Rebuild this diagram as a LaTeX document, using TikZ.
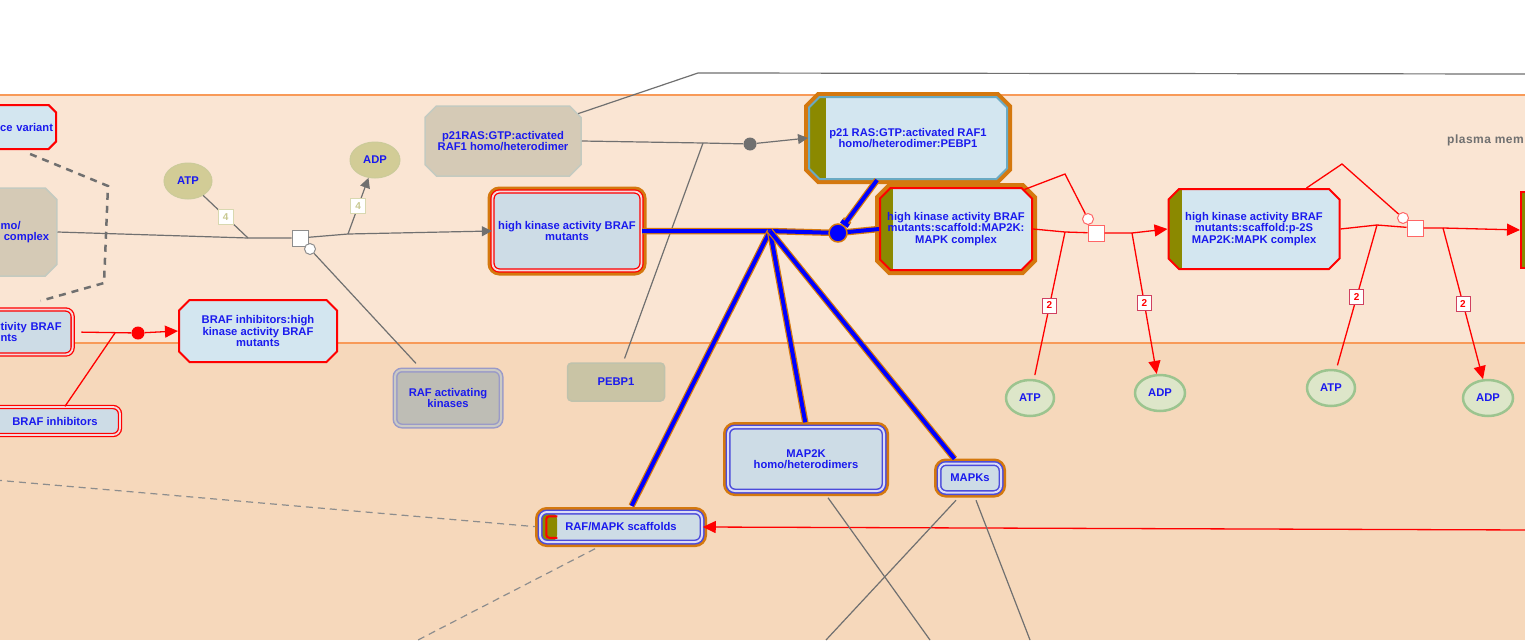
\documentclass[tikz,border=0pt]{standalone}
\usepackage{fontspec}
\setmainfont{Liberation Sans}
\usepackage{xcolor}
\usetikzlibrary{shapes.misc,shapes.geometric,arrows.meta,calc}

\definecolor{memfill}{HTML}{FAE5D3}
\definecolor{cytfill}{HTML}{F6D8BB}
\definecolor{memline}{HTML}{F89A58}
\definecolor{txtblue}{HTML}{1A1AEE}
\definecolor{labgray}{HTML}{707070}
\definecolor{pebox}{HTML}{D3E6F0}
\definecolor{setbox}{HTML}{CDDCE6}
\definecolor{setgap}{HTML}{F4D8DC}
\definecolor{bluegap}{HTML}{DCDCF6}
\definecolor{setblue}{HTML}{4B4BDB}
\definecolor{tanbox}{HTML}{D5CAB6}
\definecolor{tanedge}{HTML}{C4CAC0}
\definecolor{olivebar}{HTML}{8B8900}
\definecolor{orng}{HTML}{D4780E}
\definecolor{tealedge}{HTML}{6AAAC3}
\definecolor{chemtan}{HTML}{D2CC96}
\definecolor{chemtanedge}{HTML}{CBCB9A}
\definecolor{chemgreen}{HTML}{DDE6C9}
\definecolor{chemedge}{HTML}{9CC48F}
\definecolor{linkgray}{HTML}{707070}
\definecolor{lab4edge}{HTML}{D8D8B0}
\definecolor{lab4txt}{HTML}{C8C890}
\definecolor{lab2edge}{HTML}{D04060}
\definecolor{pebpbox}{HTML}{C9C4A5}
\definecolor{pebpedge}{HTML}{BFC2AC}
\definecolor{kinbox}{HTML}{BEBDB5}
\definecolor{kinedge}{HTML}{9A9AC8}

\tikzset{
  lbl/.style={font=\bfseries\fontsize{11.2}{11.5}\selectfont, text=txtblue, align=center, inner sep=0pt},
  cplx/.style={lbl, chamfered rectangle, chamfered rectangle xsep=7pt, draw=red, line width=2pt, fill=pebox},
  tancplx/.style={lbl, chamfered rectangle, chamfered rectangle xsep=8pt, draw=tanedge, line width=1.5pt, fill=tanbox},
  redset/.style={lbl, rectangle, rounded corners=7pt, draw=red, double=setgap, double distance=1.8pt, line width=1.3pt, fill=setbox},
  blueset/.style={lbl, rectangle, rounded corners=7pt, draw=setblue, double=bluegap, double distance=2pt, line width=1.5pt, fill=setbox},
  hlt/.style={preaction={draw=orng, line width=10pt}},
  strip/.style={path picture={\fill[olivebar] (path picture bounding box.north west) rectangle ([xshift=#1]path picture bounding box.south west);}},
  smallmol/.style={lbl, ellipse, fill=chemtan, draw=chemtanedge, line width=1pt, minimum width=48pt, minimum height=36pt},
  greenmol/.style={smallmol, fill=chemgreen, draw=chemedge, line width=2.5pt},
  graylink/.style={draw=linkgray, line width=1.2pt},
  grayarrow/.style={graylink, -{Triangle[length=10pt,width=10pt]}},
  redlink/.style={draw=red, line width=1.3pt},
  redarrow/.style={redlink, -{Triangle[length=13pt,width=12pt]}},
  bluelink/.style={draw=blue, line width=4pt, preaction={draw=orng, line width=6.5pt}},
  dashlink/.style={draw=linkgray!80, line width=1.2pt, dash pattern=on 7pt off 5pt},
  lab4/.style={fill=white, draw=lab4edge, text=lab4txt, font=\bfseries\fontsize{10}{10}\selectfont, minimum size=15pt, inner sep=0pt},
  lab2/.style={fill=white, draw=lab2edge, line width=1pt, text=red, font=\bfseries\fontsize{10}{10}\selectfont, minimum width=14pt, minimum height=15pt, inner sep=0pt},
  rxn/.style={rectangle, fill=white, draw=#1, line width=1pt, minimum size=16pt, inner sep=0pt},
  rxncirc/.style={circle, fill=white, draw=#1, line width=1pt, minimum size=11pt, inner sep=0pt}
}

\begin{document}
\begin{tikzpicture}[x=1pt,y=-1pt]
  \useasboundingbox (0,0) rectangle (1525,640);
  \clip (0,0) rectangle (1525,640);
  % compartments
  \fill[white] (0,0) rectangle (1525,95);
  \fill[memfill] (0,95) rectangle (1525,343);
  \fill[cytfill] (0,343) rectangle (1525,640);
  \draw[memline, line width=2pt] (0,95) -- (1525,95) (0,343) -- (1525,343);
  \node[lbl, text=labgray, anchor=west, font=\bfseries\fontsize{12}{12}\selectfont\addfontfeature{LetterSpace=4}] (memlbl) at (1447,140) {plasma mem};

  % entities
  \node[cplx, anchor=west, minimum width=60pt, minimum height=44pt, text width=44pt, inner xsep=8pt, align=left] (variant) at (-13,127) {\mbox{ce variant}};
  \node[tancplx, anchor=west, minimum width=56pt, minimum height=88pt, text width=40pt, inner xsep=8pt, align=left] (leftcplx) at (-16,232) {mo/\\\hspace*{3pt}\mbox{complex}};
  \node[redset, anchor=west, minimum width=80pt, minimum height=45pt, text width=64pt, inner xsep=8pt, align=left] (leftmid) at (-8,332) {\mbox{tivity BRAF}\\nts};
  \node[redset, minimum width=130pt, minimum height=28pt] (inhib) at (55,421) {BRAF inhibitors};
  \node[cplx, minimum width=158pt, minimum height=62pt] (inhibcplx) at (258,331) {BRAF inhibitors:high\\kinase activity BRAF\\mutants};
  \node[smallmol] (atp1) at (188,181) {ATP};
  \node[smallmol, minimum width=50pt] (adp1) at (375,160) {ADP};
  \node[tancplx, minimum width=156pt, minimum height=70pt] (rasraf) at (503,141) {p21RAS:GTP:activated\\RAF1 homo/heterodimer};
  \node[redset, hlt, minimum width=149pt, minimum height=79pt] (braf) at (567,231) {high kinase activity BRAF\\mutants};
  \node[lbl, rectangle, rounded corners=4pt, fill=pebpbox, draw=pebpedge, line width=1.5pt, minimum width=97pt, minimum height=38pt] (pebp1) at (616,382) {PEBP1};
  \node[lbl, rectangle, rounded corners=7pt, fill=kinbox, draw=kinedge, double=kinbox!80!white, double distance=2pt, line width=1.5pt, minimum width=106pt, minimum height=56pt] (rafkin) at (448,398) {RAF activating\\kinases};
  \node[cplx, draw=tealedge, hlt, strip=17pt, minimum width=198pt, minimum height=82pt] (rafpebp) at (908,138) {p21 RAS:GTP:activated RAF1\\homo/heterodimer:PEBP1};
  \node[cplx, hlt, strip=13pt, minimum width=152pt, minimum height=82pt] (scafcplx) at (956,229) {high kinase activity BRAF\\mutants:scaffold:MAP2K:\\MAPK complex};
  \node[cplx, strip=13pt, minimum width=171pt, minimum height=80pt] (pscaf) at (1254,229) {high kinase activity BRAF\\mutants:scaffold:p-2S\\MAP2K:MAPK complex};
  \node[cplx, fill=olivebar, anchor=west, minimum width=40pt, minimum height=76pt] (nextcplx) at (1520,230) {};
  \node[blueset, hlt, strip=17pt, minimum width=162pt, minimum height=30pt] (scaffolds) at (621,527) {RAF/MAPK scaffolds};
  \node[blueset, hlt, minimum width=156pt, minimum height=64pt] (map2k) at (806,459) {MAP2K\\homo/heterodimers};
  \node[blueset, hlt, minimum width=62pt, minimum height=29pt] (mapks) at (970,478) {MAPKs};
  \node[greenmol] (atp2) at (1030,398) {ATP};
  \node[greenmol, minimum width=50pt] (adp2) at (1160,393) {ADP};
  \node[greenmol] (atp3) at (1331,388) {ATP};
  \node[greenmol, minimum width=50pt] (adp3) at (1488,398) {ADP};
  \draw[red, line width=2pt, rounded corners=3pt] ($(scaffolds.north west)+(18,5)$) -- ($(scaffolds.north west)+(7,5)$) -- ($(scaffolds.south west)+(7,-5)$) -- ($(scaffolds.south west)+(18,-5)$);

  % reaction glyphs
  \node[rxn=linkgray!80] (r1) at (300,238) {};
  \node[rxncirc=linkgray!80] (r1c) at (310,249) {};
  \node[rxn=red!60] (r2) at (1096,233) {};
  \node[rxncirc=red!60] (r2c) at (1088,219) {};
  \node[rxn=red!60] (r3) at (1415,228) {};
  \node[rxncirc=red!60] (r3c) at (1403,218) {};
  \node[circle, fill=red, minimum size=13pt, inner sep=0pt] (reddot) at (138,333) {};
  \node[circle, fill=linkgray, minimum size=13pt, inner sep=0pt] (graydot) at (750,144) {};

  % junctions and free ends
  \coordinate (j1) at (248,238);
  \coordinate (j2) at (348,234);
  \coordinate (j3) at (703,143);
  \coordinate (j4) at (1065,232);
  \coordinate (j5) at (1132,233);
  \coordinate (j6) at (1377,225);
  \coordinate (j7) at (1443,228);
  \coordinate (j8) at (115,333);
  \coordinate (k1) at (1065,174);
  \coordinate (k2) at (1342,164);
  \coordinate (hub) at (770,231);
  \coordinate (bdot) at (838,233);
  \coordinate (topbend) at (698,73);
  \coordinate (topend) at (1530,74);
  \coordinate (redin) at (1530,530);
  \coordinate (b1) at (930,640);
  \coordinate (b2) at (826,640);
  \coordinate (b3) at (1030,640);
  \coordinate (d1) at (-5,480);
  \coordinate (d2) at (418,640);
  \coordinate (dash1) at (108,186);
  \coordinate (dash2) at (104,283);

  % gray reaction
  \draw[draw=linkgray, line width=2.5pt, dash pattern=on 7pt off 6pt] ($(variant.south)+(8,4)$) -- (dash1) -- (dash2) -- ($(leftmid.north)+(8,-8)$);
  \draw[graylink] (leftcplx.east) -- (j1) -- (r1) -- (j2);
  \draw[grayarrow] (j2) -- (braf.west);
  \draw[graylink] (atp1) -- node[lab4]{4} (j1);
  \draw[grayarrow] (j2) -- node[lab4]{4} (adp1);
  \draw[graylink, shorten >=8pt] (r1c) -- (rafkin);
  \draw[graylink] (rasraf.20) -- (topbend) -- (topend);
  \draw[graylink] (rasraf.east) -- (j3) -- (graydot);
  \draw[grayarrow] (graydot) -- (rafpebp.west);
  \draw[graylink, shorten <=4pt] (pebp1) -- (j3);

  % inhibitor binding
  \draw[redlink, shorten <=8pt] (leftmid.east) -- (reddot);
  \draw[redarrow] (reddot) -- (inhibcplx.west);
  \draw[redlink] (inhib) -- (j8);

  % scaffold complex assembly
  \draw[bluelink] (braf.east) -- (hub) -- (bdot) -- (scafcplx.west);
  \draw[bluelink, shorten >=6pt] (hub) -- (scaffolds);
  \draw[bluelink, shorten >=4pt] (hub) -- (map2k.north);
  \draw[bluelink, shorten >=5pt] (hub) -- (mapks);
  \node[circle, fill=blue, draw=orng, line width=1.5pt, minimum size=18pt, inner sep=0pt] (bluedot) at (bdot) {};
  \draw[bluelink, -{Bar[width=9pt]}] (rafpebp) -- (bluedot);

  % phosphorylation steps
  \draw[redlink] (scafcplx.east) -- (j4) -- (r2) -- (j5);
  \draw[redarrow] (j5) -- (pscaf.west);
  \draw[redlink] (r2c) -- (k1) -- (scafcplx.30);
  \draw[redlink, shorten >=4pt] (j4) -- node[lab2]{2} (atp2);
  \draw[redarrow] (j5) -- node[lab2]{2} (adp2);
  \draw[redlink] (pscaf.east) -- (j6) -- (r3) -- (j7);
  \draw[redarrow] (j7) -- (nextcplx.west);
  \draw[redlink] (r3c) -- (k2) -- (pscaf.38);
  \draw[redlink, shorten >=4pt] (j6) -- node[lab2]{2} (atp3);
  \draw[redarrow] (j7) -- node[lab2]{2} (adp3);
  \draw[redarrow] (redin) -- (scaffolds.east);

  % cytosol links
  \draw[graylink] ($(map2k.south)+(22,6)$) -- (b1);
  \draw[graylink] ($(mapks.south)+(-14,7)$) -- (b2);
  \draw[graylink] ($(mapks.south)+(6,7)$) -- (b3);
  \draw[dashlink, shorten >=4pt] (d1) -- (scaffolds.west);
  \draw[dashlink] ($(scaffolds.south)+(-26,6)$) -- (d2);
\end{tikzpicture}
\end{document}
